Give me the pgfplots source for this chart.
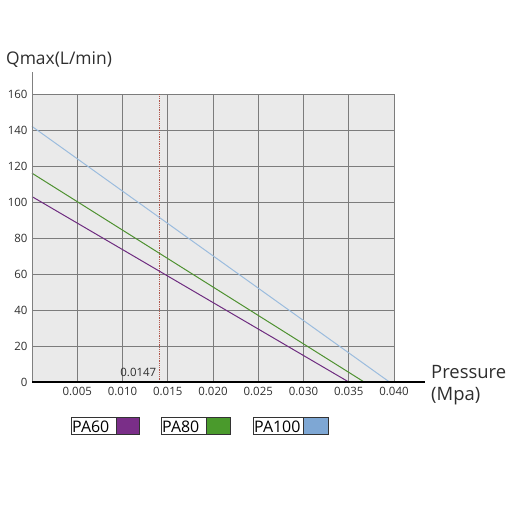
\documentclass[border=0pt]{standalone}
\usepackage{fontspec}
\setmainfont{Open Sans}
\usepackage{pgfplots}
\pgfplotsset{compat=1.18}
\definecolor{bgcol}{HTML}{EAEAEA}
\definecolor{gridcol}{HTML}{7C7C7C}
\definecolor{textcol}{HTML}{2E2E2E}
\definecolor{purpline}{HTML}{6E2C80}
\definecolor{greenline}{HTML}{4E9130}
\definecolor{blueline}{HTML}{9BBCDE}
\definecolor{purpsw}{HTML}{7A2E88}
\definecolor{greensw}{HTML}{4A9A2C}
\definecolor{bluesw}{HTML}{7EA7D4}
\definecolor{dashcol}{HTML}{B0554A}
\definecolor{framecol}{HTML}{333333}
\begin{document}
\begin{tikzpicture}
\path (-32bp,-126bp) rectangle (476bp,382bp);
\begin{axis}[
  at={(0,0)}, anchor=south west,
  width=362bp, height=288bp, scale only axis,
  xmin=0, xmax=0.040, ymin=0, ymax=160,
  axis line style={draw=none},
  axis background/.style={fill=bgcol},
  xtick={0.005,0.01,0.015,0.02,0.025,0.03,0.035,0.04},
  xticklabels={0.005,0.010,0.015,0.020,0.025,0.030,0.035,0.040},
  ytick={0,20,40,60,80,100,120,140,160},
  yticklabels={0,20,40,60,80,100,120,140,160},
  scaled x ticks=false,
  grid=major,
  major grid style={draw=gridcol, line width=0.7pt},
  major tick length=0pt,
  tick label style={font=\fontsize{11.5}{13}\selectfont, text=textcol},
  xticklabel style={yshift=-2bp},
  yticklabel style={xshift=-1bp},
  /pgf/number format/assume math mode=true,
  clip=false,
]
\addplot[dashcol, densely dotted, line width=0.8pt] coordinates {(0.0141,0) (0.0141,160)};
\addplot[purpline, line width=1pt] coordinates {(0,103) (0.0350,0)};
\addplot[greenline, line width=1pt] coordinates {(0,116) (0.0367,0)};
\addplot[blueline, line width=1pt] coordinates {(0,142) (0.0395,0)};
\node[font=\fontsize{11.5}{13}\selectfont, text=textcol] at (axis cs:0.01175,5.5) {0.0147};
\end{axis}
\draw[gray, line width=0.5pt] (0,0) -- (0,310bp);
\draw[black, line width=1.3pt] (0,0) -- (393bp,0);
\node[anchor=base west, inner sep=0pt, text=textcol, font=\fontsize{17.5}{19}\selectfont] at (-26bp,317bp) {Qmax(L/min)};
\node[anchor=west, inner sep=0pt, text=textcol, font=\fontsize{18.5}{20}\selectfont] at (399bp,10bp) {Pressure};
\node[anchor=west, inner sep=0pt, text=textcol, font=\fontsize{18.5}{20}\selectfont] at (399bp,-14bp) {(Mpa)};
% legend
\fill[white] (39bp,-52bp) rectangle (84bp,-35bp);
\fill[purpsw] (84bp,-52bp) rectangle (107bp,-35bp);
\draw[framecol, line width=1pt] (39bp,-52bp) rectangle (107bp,-35bp);
\draw[framecol, line width=0.6pt] (84bp,-52bp) -- (84bp,-35bp);
\node[anchor=west, inner sep=0pt, text=black, font=\fontsize{16}{17}\selectfont] at (40bp,-44.5bp) {PA60};
\fill[white] (129bp,-52bp) rectangle (174bp,-35bp);
\fill[greensw] (174bp,-52bp) rectangle (198bp,-35bp);
\draw[framecol, line width=1pt] (129bp,-52bp) rectangle (198bp,-35bp);
\draw[framecol, line width=0.6pt] (174bp,-52bp) -- (174bp,-35bp);
\node[anchor=west, inner sep=0pt, text=black, font=\fontsize{16}{17}\selectfont] at (130bp,-44.5bp) {PA80};
\fill[white] (221bp,-52bp) rectangle (271bp,-35bp);
\fill[bluesw] (271bp,-52bp) rectangle (296bp,-35bp);
\draw[framecol, line width=1pt] (221bp,-52bp) rectangle (296bp,-35bp);
\draw[framecol, line width=0.6pt] (271bp,-52bp) -- (271bp,-35bp);
\node[anchor=west, inner sep=0pt, text=black, font=\fontsize{16}{17}\selectfont] at (222bp,-44.5bp) {PA100};
\end{tikzpicture}
\end{document}
